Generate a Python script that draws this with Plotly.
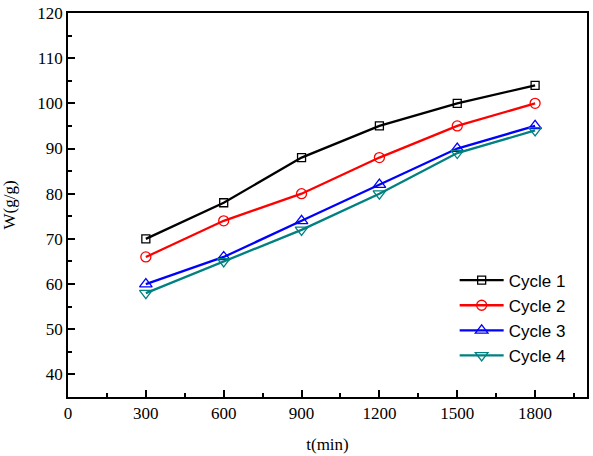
import plotly.graph_objects as go

t_min = [300, 600, 900, 1200, 1500, 1800]
cycle1 = [70, 78, 88, 95, 100, 104]
cycle2 = [66, 74, 80, 88, 95, 100]
cycle3 = [60, 66, 74, 82, 90, 95]
cycle4 = [58, 65, 72, 80, 89, 94]

series = [
    ("Cycle 1", cycle1, "black", "square-open", 8),
    ("Cycle 2", cycle2, "red", "circle-open", 10),
    ("Cycle 3", cycle3, "blue", "triangle-up-open", 11),
    ("Cycle 4", cycle4, "#008080", "triangle-down-open", 11),
]

fig = go.Figure()
for name, vals, color, sym, size in series:
    fig.add_trace(go.Scatter(
        x=t_min, y=vals, name=name, mode="lines+markers",
        line=dict(color=color, width=2.3),
        marker=dict(symbol=sym, size=size, color=color, line=dict(width=1.3, color=color)),
    ))

axis_font = dict(family="Liberation Serif", size=17, color="black")

fig.update_xaxes(
    range=[0, 2000], tick0=0, dtick=300,
    ticks="inside", ticklen=7, tickwidth=1.5, tickcolor="black",
    minor=dict(ticks="inside", dtick=150, ticklen=4, tickwidth=1.5, tickcolor="black"),
    showline=True, linecolor="black", linewidth=1.8, mirror=True,
    showgrid=False, zeroline=False, tickfont=axis_font,
    title=dict(text="t(min)", font=axis_font, standoff=16),
)
fig.update_yaxes(
    range=[35, 120], tick0=0, dtick=10,
    ticks="inside", ticklen=7, tickwidth=1.5, tickcolor="black",
    minor=dict(ticks="inside", dtick=5, ticklen=4, tickwidth=1.5, tickcolor="black"),
    showline=True, linecolor="black", linewidth=1.8, mirror=True,
    showgrid=False, zeroline=False, tickfont=axis_font,
    title=dict(text="W(g/g)", font=axis_font, standoff=18),
)

fig.update_layout(
    width=593, height=456,
    margin=dict(l=68, r=4, t=10, b=59),
    plot_bgcolor="white", paper_bgcolor="white",
    legend=dict(
        x=0.745, y=0.35, xanchor="left", yanchor="top",
        font=dict(family="Liberation Sans", size=17, color="black"),
        bgcolor="rgba(0,0,0,0)", tracegroupgap=0, itemwidth=44,
    ),
)

# drop the default 8px body margin so the figure fills the window
fig.write_html("out.html", config={"displayModeBar": False},
               post_script="document.body.style.margin='0px';")
